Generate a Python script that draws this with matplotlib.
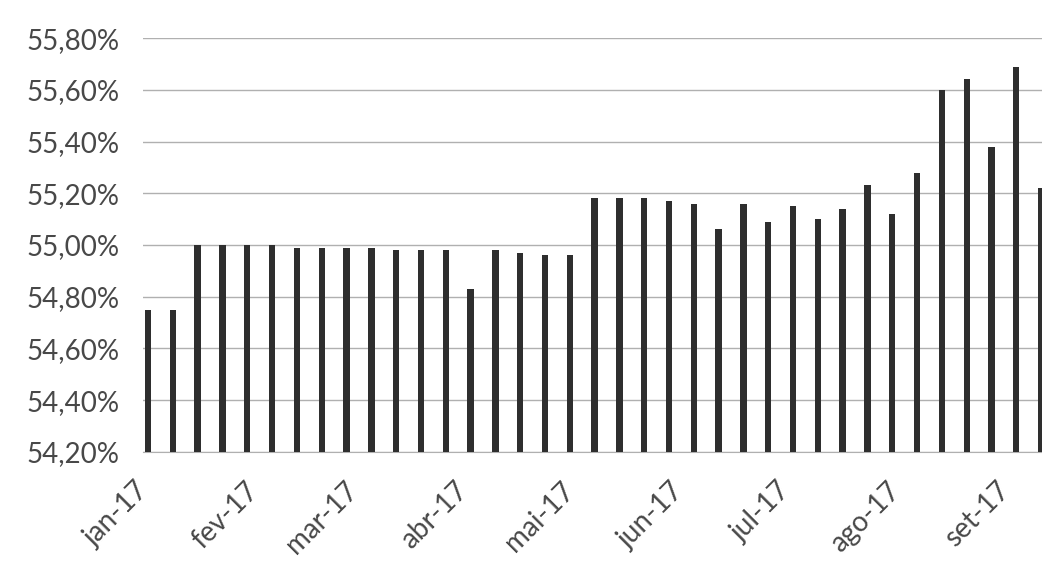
import pandas as pd
import matplotlib
matplotlib.use("Agg")
import matplotlib.pyplot as plt
from matplotlib.ticker import FuncFormatter

# weekly share values (%), one bar per week starting 02/01/2017
week_start = "2017-01-02"
share = [
    54.75, 54.75, 55.00, 55.00, 55.00, 55.00, 54.99, 54.99, 54.99, 54.99,
    54.98, 54.98, 54.98, 54.83, 54.98, 54.97, 54.96, 54.96, 55.18, 55.18,
    55.18, 55.17, 55.16, 55.06, 55.16, 55.09, 55.15, 55.10, 55.14, 55.23,
    55.12, 55.28, 55.60, 55.64, 55.38, 55.69, 55.22,
]

# month ticks on the date axis
month_starts = ["2017-01-01", "2017-02-01", "2017-03-01", "2017-04-01", "2017-05-01",
                "2017-06-01", "2017-07-01", "2017-08-01", "2017-09-01"]
month_labels = ["jan-17", "fev-17", "mar-17", "abr-17", "mai-17",
                "jun-17", "jul-17", "ago-17", "set-17"]

y_ticks = [54.2, 54.4, 54.6, 54.8, 55.0, 55.2, 55.4, 55.6, 55.8]

df = pd.DataFrame({
    "week": pd.date_range(week_start, periods=len(share), freq="7D"),
    "share": share,
})

plt.rcParams["font.family"] = ["Lato", "DejaVu Sans"]
text_color = "#484848"

fig = plt.figure(figsize=(10.42, 5.69), dpi=100)
ax = fig.add_axes([0.137, 0.206, 0.863, 0.727])

ax.bar(df["week"], df["share"], width=1.8, color="#2e2e2e", zorder=3)

ax.set_ylim(54.2, 55.8)
ax.set_yticks(y_ticks)
ax.yaxis.set_major_formatter(FuncFormatter(lambda v, _: f"{v:.2f}%".replace(".", ",")))
ax.grid(axis="y", color="#b0b0b0", linewidth=1.0, zorder=0)

ax.set_xlim(pd.Timestamp("2016-12-31 12:00"), pd.Timestamp("2017-09-11 06:00"))
ax.set_xticks(pd.to_datetime(month_starts))
ax.set_xticklabels(month_labels, rotation=45, ha="right", va="center",
                   rotation_mode="anchor")

for side in ["top", "right", "left"]:
    ax.spines[side].set_visible(False)
ax.spines["bottom"].set_color("#b0b0b0")

ax.tick_params(axis="y", length=0, pad=17, labelsize=20, labelcolor=text_color)
ax.tick_params(axis="x", length=0, pad=25, labelsize=20, labelcolor=text_color)

plt.savefig("out.png", dpi=100)
